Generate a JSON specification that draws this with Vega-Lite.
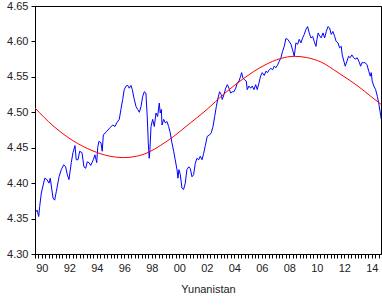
{
  "$schema": "https://vega.github.io/schema/vega-lite/v6.json",
  "width": 346,
  "height": 248,
  "autosize": "none",
  "padding": {"left": 35, "top": 6, "right": 1, "bottom": 53},
  "config": {
    "view": {"stroke": "black", "strokeWidth": 1},
    "axis": {"grid": false, "labelFont": "Liberation Sans", "titleFont": "Liberation Sans", "labelFontSize": 11, "titleFontSize": 11, "labelColor": "#222", "titleColor": "#222", "domainColor": "black", "tickColor": "black", "titleFontWeight": "normal"}
  },
  "datasets": {
    "series": [
      {"t": 1990.0, "v": 4.358}, {"t": 1990.15, "v": 4.362}, {"t": 1990.27, "v": 4.353}, {"t": 1990.34, "v": 4.367}, {"t": 1990.46, "v": 4.386},
      {"t": 1990.71, "v": 4.407}, {"t": 1990.87, "v": 4.405}, {"t": 1991.02, "v": 4.4}, {"t": 1991.11, "v": 4.407}, {"t": 1991.31, "v": 4.379},
      {"t": 1991.43, "v": 4.376}, {"t": 1991.55, "v": 4.388}, {"t": 1991.75, "v": 4.409}, {"t": 1991.91, "v": 4.419}, {"t": 1992.09, "v": 4.426},
      {"t": 1992.23, "v": 4.423}, {"t": 1992.35, "v": 4.412}, {"t": 1992.47, "v": 4.405}, {"t": 1992.64, "v": 4.429}, {"t": 1992.76, "v": 4.443},
      {"t": 1992.91, "v": 4.453}, {"t": 1993.0, "v": 4.433}, {"t": 1993.13, "v": 4.433}, {"t": 1993.25, "v": 4.445}, {"t": 1993.42, "v": 4.443},
      {"t": 1993.56, "v": 4.423}, {"t": 1993.69, "v": 4.421}, {"t": 1993.8, "v": 4.43}, {"t": 1993.93, "v": 4.429}, {"t": 1994.05, "v": 4.425},
      {"t": 1994.24, "v": 4.433}, {"t": 1994.36, "v": 4.44}, {"t": 1994.49, "v": 4.429}, {"t": 1994.56, "v": 4.45}, {"t": 1994.65, "v": 4.459},
      {"t": 1994.8, "v": 4.457}, {"t": 1994.89, "v": 4.445}, {"t": 1994.97, "v": 4.468}, {"t": 1995.21, "v": 4.473}, {"t": 1995.45, "v": 4.478},
      {"t": 1995.65, "v": 4.482}, {"t": 1995.82, "v": 4.48}, {"t": 1995.94, "v": 4.485}, {"t": 1996.13, "v": 4.49}, {"t": 1996.25, "v": 4.504},
      {"t": 1996.38, "v": 4.518}, {"t": 1996.49, "v": 4.532}, {"t": 1996.62, "v": 4.537}, {"t": 1996.74, "v": 4.538}, {"t": 1996.86, "v": 4.534},
      {"t": 1996.98, "v": 4.538}, {"t": 1997.08, "v": 4.532}, {"t": 1997.2, "v": 4.52}, {"t": 1997.35, "v": 4.508}, {"t": 1997.47, "v": 4.504},
      {"t": 1997.59, "v": 4.5}, {"t": 1997.71, "v": 4.508}, {"t": 1997.83, "v": 4.522}, {"t": 1997.95, "v": 4.529}, {"t": 1998.07, "v": 4.527},
      {"t": 1998.17, "v": 4.492}, {"t": 1998.24, "v": 4.457}, {"t": 1998.31, "v": 4.435}, {"t": 1998.36, "v": 4.447}, {"t": 1998.44, "v": 4.48},
      {"t": 1998.56, "v": 4.49}, {"t": 1998.68, "v": 4.48}, {"t": 1998.8, "v": 4.499}, {"t": 1998.92, "v": 4.494}, {"t": 1999.04, "v": 4.513},
      {"t": 1999.11, "v": 4.499}, {"t": 1999.19, "v": 4.504}, {"t": 1999.24, "v": 4.482}, {"t": 1999.36, "v": 4.49}, {"t": 1999.48, "v": 4.485},
      {"t": 1999.6, "v": 4.487}, {"t": 1999.72, "v": 4.48}, {"t": 1999.84, "v": 4.471}, {"t": 1999.96, "v": 4.457}, {"t": 2000.09, "v": 4.445},
      {"t": 2000.2, "v": 4.433}, {"t": 2000.33, "v": 4.419}, {"t": 2000.4, "v": 4.407}, {"t": 2000.47, "v": 4.419}, {"t": 2000.57, "v": 4.412},
      {"t": 2000.69, "v": 4.393}, {"t": 2000.81, "v": 4.391}, {"t": 2000.93, "v": 4.4}, {"t": 2001.05, "v": 4.419}, {"t": 2001.18, "v": 4.423},
      {"t": 2001.29, "v": 4.421}, {"t": 2001.42, "v": 4.409}, {"t": 2001.54, "v": 4.412}, {"t": 2001.66, "v": 4.428}, {"t": 2001.78, "v": 4.435},
      {"t": 2001.91, "v": 4.433}, {"t": 2002.02, "v": 4.438}, {"t": 2002.15, "v": 4.433}, {"t": 2002.27, "v": 4.442}, {"t": 2002.39, "v": 4.453},
      {"t": 2002.53, "v": 4.466}, {"t": 2002.7, "v": 4.468}, {"t": 2002.82, "v": 4.471}, {"t": 2002.95, "v": 4.48}, {"t": 2003.07, "v": 4.494},
      {"t": 2003.19, "v": 4.508}, {"t": 2003.31, "v": 4.52}, {"t": 2003.43, "v": 4.529}, {"t": 2003.55, "v": 4.525}, {"t": 2003.62, "v": 4.518},
      {"t": 2003.75, "v": 4.525}, {"t": 2003.87, "v": 4.534}, {"t": 2003.99, "v": 4.539}, {"t": 2004.11, "v": 4.534}, {"t": 2004.23, "v": 4.527},
      {"t": 2004.35, "v": 4.529}, {"t": 2004.47, "v": 4.529}, {"t": 2004.6, "v": 4.534}, {"t": 2004.71, "v": 4.541}, {"t": 2004.84, "v": 4.544},
      {"t": 2004.96, "v": 4.551}, {"t": 2005.03, "v": 4.556}, {"t": 2005.13, "v": 4.548}, {"t": 2005.25, "v": 4.546}, {"t": 2005.37, "v": 4.544},
      {"t": 2005.44, "v": 4.532}, {"t": 2005.56, "v": 4.537}, {"t": 2005.69, "v": 4.534}, {"t": 2005.8, "v": 4.537}, {"t": 2005.93, "v": 4.532},
      {"t": 2006.05, "v": 4.539}, {"t": 2006.17, "v": 4.532}, {"t": 2006.29, "v": 4.541}, {"t": 2006.41, "v": 4.551}, {"t": 2006.53, "v": 4.556},
      {"t": 2006.68, "v": 4.552}, {"t": 2006.8, "v": 4.558}, {"t": 2006.92, "v": 4.556}, {"t": 2007.04, "v": 4.56}, {"t": 2007.16, "v": 4.562},
      {"t": 2007.29, "v": 4.56}, {"t": 2007.4, "v": 4.565}, {"t": 2007.53, "v": 4.563}, {"t": 2007.65, "v": 4.567}, {"t": 2007.77, "v": 4.572},
      {"t": 2007.89, "v": 4.577}, {"t": 2008.01, "v": 4.586}, {"t": 2008.13, "v": 4.593}, {"t": 2008.25, "v": 4.604}, {"t": 2008.38, "v": 4.603},
      {"t": 2008.49, "v": 4.6}, {"t": 2008.62, "v": 4.596}, {"t": 2008.74, "v": 4.588}, {"t": 2008.86, "v": 4.579}, {"t": 2008.98, "v": 4.598},
      {"t": 2009.11, "v": 4.596}, {"t": 2009.22, "v": 4.603}, {"t": 2009.35, "v": 4.598}, {"t": 2009.47, "v": 4.605}, {"t": 2009.59, "v": 4.61},
      {"t": 2009.71, "v": 4.617}, {"t": 2009.83, "v": 4.621}, {"t": 2009.95, "v": 4.612}, {"t": 2010.07, "v": 4.605}, {"t": 2010.2, "v": 4.607},
      {"t": 2010.31, "v": 4.6}, {"t": 2010.44, "v": 4.593}, {"t": 2010.51, "v": 4.603}, {"t": 2010.6, "v": 4.612}, {"t": 2010.7, "v": 4.608},
      {"t": 2010.82, "v": 4.605}, {"t": 2010.95, "v": 4.612}, {"t": 2011.07, "v": 4.605}, {"t": 2011.19, "v": 4.614}, {"t": 2011.31, "v": 4.621},
      {"t": 2011.43, "v": 4.619}, {"t": 2011.55, "v": 4.61}, {"t": 2011.67, "v": 4.614}, {"t": 2011.8, "v": 4.607}, {"t": 2011.91, "v": 4.6},
      {"t": 2012.04, "v": 4.598}, {"t": 2012.16, "v": 4.591}, {"t": 2012.28, "v": 4.593}, {"t": 2012.35, "v": 4.581}, {"t": 2012.47, "v": 4.572},
      {"t": 2012.57, "v": 4.565}, {"t": 2012.69, "v": 4.572}, {"t": 2012.81, "v": 4.579}, {"t": 2012.93, "v": 4.577}, {"t": 2013.05, "v": 4.581},
      {"t": 2013.18, "v": 4.577}, {"t": 2013.29, "v": 4.575}, {"t": 2013.44, "v": 4.577}, {"t": 2013.56, "v": 4.572}, {"t": 2013.69, "v": 4.565},
      {"t": 2013.78, "v": 4.57}, {"t": 2013.91, "v": 4.57}, {"t": 2014.02, "v": 4.57}, {"t": 2014.15, "v": 4.567}, {"t": 2014.28, "v": 4.558},
      {"t": 2014.39, "v": 4.551}, {"t": 2014.46, "v": 4.556}, {"t": 2014.53, "v": 4.544}, {"t": 2014.65, "v": 4.537}, {"t": 2014.78, "v": 4.532},
      {"t": 2014.91, "v": 4.522}, {"t": 2015.02, "v": 4.511}, {"t": 2015.12, "v": 4.499}, {"t": 2015.19, "v": 4.49}
    ],
    "trend": [
      {"t": 1990.0, "v": 4.506}, {"t": 1991.31, "v": 4.481}, {"t": 1992.76, "v": 4.46}, {"t": 1994.15, "v": 4.446}, {"t": 1995.45, "v": 4.438},
      {"t": 1996.42, "v": 4.436}, {"t": 1997.4, "v": 4.438}, {"t": 1998.31, "v": 4.444}, {"t": 1999.11, "v": 4.453}, {"t": 2000.09, "v": 4.466},
      {"t": 2001.05, "v": 4.481}, {"t": 2002.51, "v": 4.504}, {"t": 2003.75, "v": 4.526}, {"t": 2005.2, "v": 4.548}, {"t": 2006.65, "v": 4.566},
      {"t": 2007.89, "v": 4.576}, {"t": 2008.86, "v": 4.579}, {"t": 2009.83, "v": 4.577}, {"t": 2010.8, "v": 4.571}, {"t": 2012.04, "v": 4.556},
      {"t": 2013.49, "v": 4.537}, {"t": 2014.46, "v": 4.522}, {"t": 2015.19, "v": 4.511}
    ]
  },
  "encoding": {
    "x": {
      "field": "t", "type": "quantitative",
      "scale": {"domain": [1990, 2015.17], "nice": false, "zero": false},
      "axis": {
        "orient": "bottom",
        "title": "Yunanistan",
        "titlePadding": 10,
        "values": [1990, 1990.25, 1990.5, 1990.75, 1991, 1991.25, 1991.5, 1991.75, 1992, 1992.25, 1992.5, 1992.75, 1993, 1993.25, 1993.5, 1993.75, 1994, 1994.25, 1994.5, 1994.75, 1995, 1995.25, 1995.5, 1995.75, 1996, 1996.25, 1996.5, 1996.75, 1997, 1997.25, 1997.5, 1997.75, 1998, 1998.25, 1998.5, 1998.75, 1999, 1999.25, 1999.5, 1999.75, 2000, 2000.25, 2000.5, 2000.75, 2001, 2001.25, 2001.5, 2001.75, 2002, 2002.25, 2002.5, 2002.75, 2003, 2003.25, 2003.5, 2003.75, 2004, 2004.25, 2004.5, 2004.75, 2005, 2005.25, 2005.5, 2005.75, 2006, 2006.25, 2006.5, 2006.75, 2007, 2007.25, 2007.5, 2007.75, 2008, 2008.25, 2008.5, 2008.75, 2009, 2009.25, 2009.5, 2009.75, 2010, 2010.25, 2010.5, 2010.75, 2011, 2011.25, 2011.5, 2011.75, 2012, 2012.25, 2012.5, 2012.75, 2013, 2013.25, 2013.5, 2013.75, 2014, 2014.25, 2014.5, 2014.75, 2015],
        "labelExpr": "datum.value % 2 === 0.5 ? substring(toString(floor(datum.value)), 2, 4) : ''",
        "tickSize": 4,
        "tickWidth": 1,
        "domain": true,
        "labelPadding": 4,
        "labelFlush": false,
        "labelOverlap": false
      }
    },
    "y": {
      "field": "v", "type": "quantitative",
      "scale": {"domain": [4.3, 4.65], "nice": false, "zero": false},
      "axis": {
        "title": null,
        "values": [4.3, 4.35, 4.4, 4.45, 4.5, 4.55, 4.6, 4.65],
        "format": ".2f",
        "tickSize": 4,
        "labelPadding": 3,
        "labelFlush": false,
        "labelOverlap": false
      }
    }
  },
  "layer": [
    {
      "data": {"name": "series"},
      "mark": {"type": "line", "color": "#0000FF", "strokeWidth": 1, "clip": true}
    },
    {
      "data": {"name": "trend"},
      "mark": {"type": "line", "color": "#FF0000", "strokeWidth": 1, "interpolate": "monotone", "clip": true}
    }
  ]
}
